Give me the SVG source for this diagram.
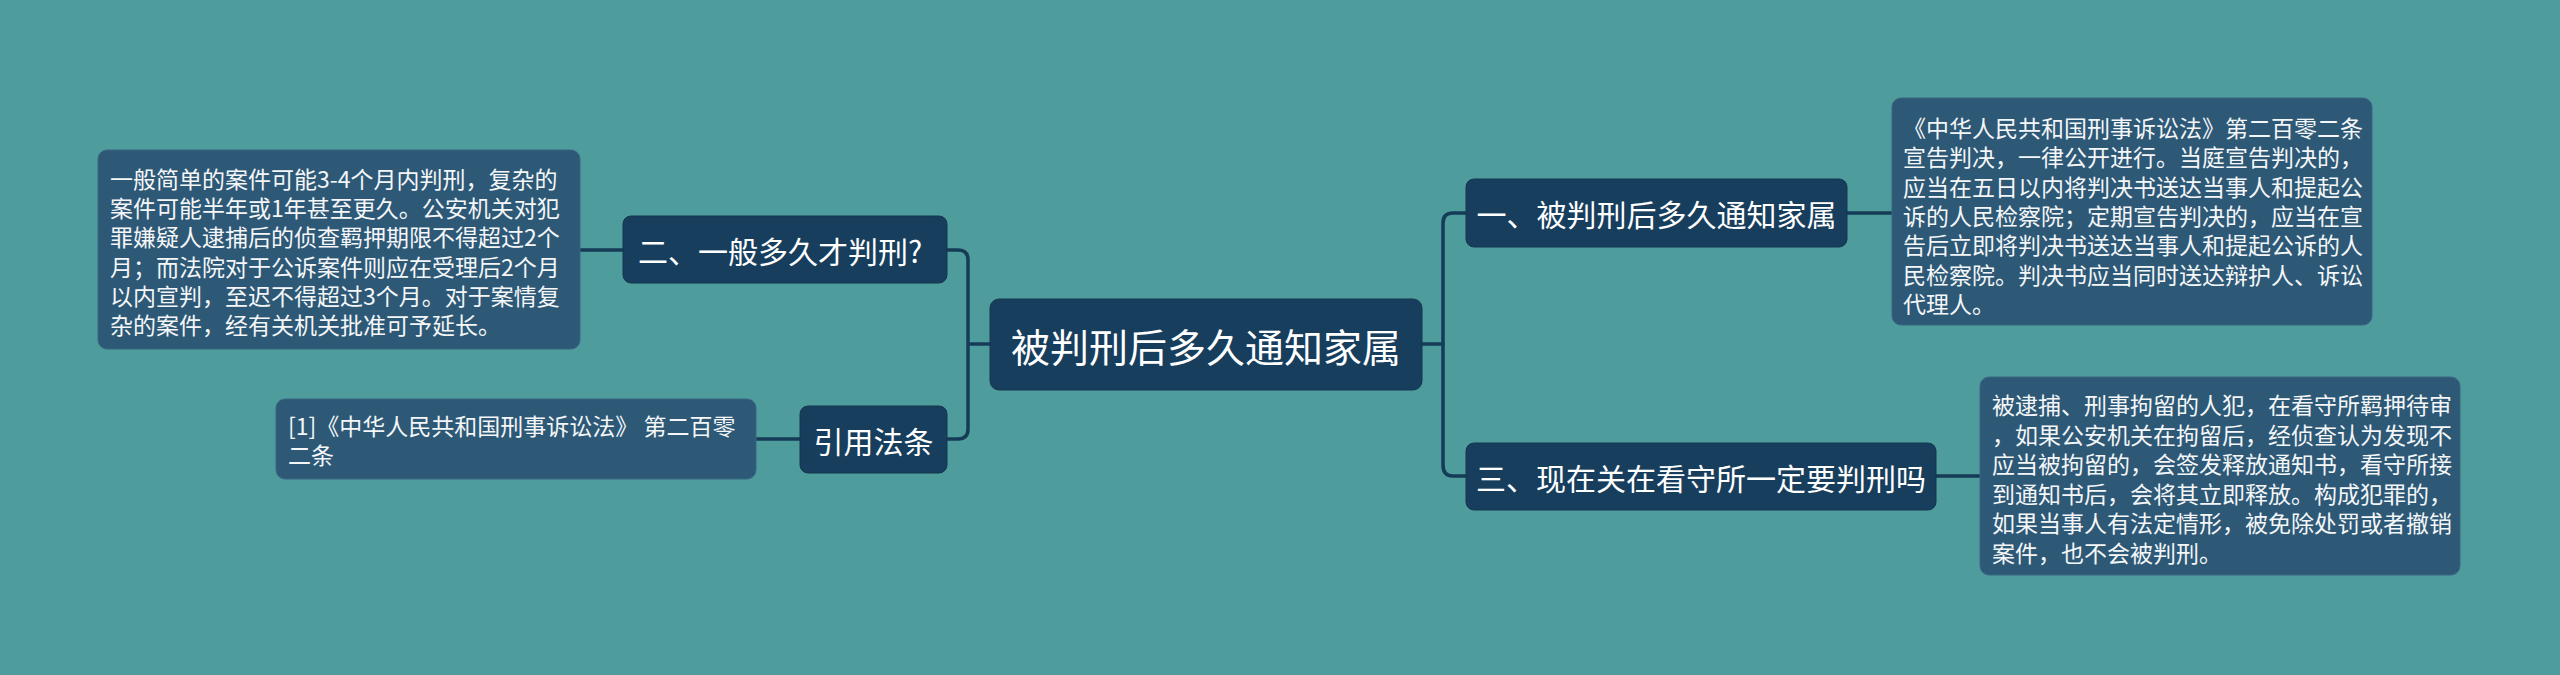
<svg xmlns="http://www.w3.org/2000/svg" width="2560" height="675" viewBox="0 0 2560 675">
<style>
.bg{fill:#4e9d9c}
.node{fill:#173e5d;stroke:#15374f;stroke-width:1}
.detail{fill:#2d5977;stroke:#3a6683;stroke-width:1}
.conn{fill:none;stroke:#163b57;stroke-width:3.5;stroke-linecap:round}
text{font-family:"Noto Sans CJK SC","Noto Sans",sans-serif;fill:#ffffff;dominant-baseline:central}
.root{font-size:39px}
.sub{font-size:30px}
.dt{font-size:23px;fill:#f4f6f8}
</style>
<rect class="bg" x="0" y="0" width="2560" height="675"/>
<g id="connectors">
<path class="conn" d="M990,344 H968"/>
<path class="conn" d="M947,250 H958 Q968,250 968,260 V429 Q968,439 958,439 H947"/>
<path class="conn" d="M1422,344 H1443"/>
<path class="conn" d="M1466,213 H1453 Q1443,213 1443,223 V465 Q1443,476 1453,476 H1466"/>
<path class="conn" d="M623,250 H580"/>
<path class="conn" d="M800,439 H756"/>
<path class="conn" d="M1847,213 H1892"/>
<path class="conn" d="M1936,476 H1980"/>
</g>
<g id="root">
<rect class="node" x="990" y="299" width="432" height="91" rx="9"/>
<text class="root" x="1206" y="344.5" text-anchor="middle">被判刑后多久通知家属</text>
</g>
<g id="node-2">
<rect class="node" x="623" y="216" width="324" height="67" rx="8"/>
<text class="sub" x="638" y="249.5">二、一般多久才判刑?</text>
</g>
<g id="node-ref">
<rect class="node" x="800" y="406" width="147" height="67" rx="8"/>
<text class="sub" x="873.5" y="439.5" text-anchor="middle">引用法条</text>
</g>
<g id="node-1">
<rect class="node" x="1466" y="179" width="381" height="68" rx="8"/>
<text class="sub" x="1656.5" y="213" text-anchor="middle">一、被判刑后多久通知家属</text>
</g>
<g id="node-3">
<rect class="node" x="1466" y="443" width="470" height="67" rx="8"/>
<text class="sub" x="1701" y="476.5" text-anchor="middle">三、现在关在看守所一定要判刑吗</text>
</g>
<g id="detail-2">
<rect class="detail" x="98" y="150" width="482" height="199" rx="9"/>
<text class="dt" x="110" y="178">一般简单的案件可能3-4个月内判刑，复杂的</text>
<text class="dt" x="110" y="207.2">案件可能半年或1年甚至更久。公安机关对犯</text>
<text class="dt" x="110" y="236.4">罪嫌疑人逮捕后的侦查羁押期限不得超过2个</text>
<text class="dt" x="110" y="265.6">月；而法院对于公诉案件则应在受理后2个月</text>
<text class="dt" x="110" y="294.8">以内宣判，至迟不得超过3个月。对于案情复</text>
<text class="dt" x="110" y="324">杂的案件，经有关机关批准可予延长。</text>
</g>
<g id="detail-ref">
<rect class="detail" x="276" y="399" width="480" height="80" rx="9"/>
<text class="dt" x="288" y="424.5">[1]《中华人民共和国刑事诉讼法》 第二百零</text>
<text class="dt" x="288" y="453.5">二条</text>
</g>
<g id="detail-1">
<rect class="detail" x="1892" y="98" width="480" height="227" rx="9"/>
<text class="dt" x="1903" y="127">《中华人民共和国刑事诉讼法》第二百零二条</text>
<text class="dt" x="1903" y="156.3">宣告判决，一律公开进行。当庭宣告判决的，</text>
<text class="dt" x="1903" y="185.6">应当在五日以内将判决书送达当事人和提起公</text>
<text class="dt" x="1903" y="214.9">诉的人民检察院；定期宣告判决的，应当在宣</text>
<text class="dt" x="1903" y="244.2">告后立即将判决书送达当事人和提起公诉的人</text>
<text class="dt" x="1903" y="273.5">民检察院。判决书应当同时送达辩护人、诉讼</text>
<text class="dt" x="1903" y="302.8">代理人。</text>
</g>
<g id="detail-3">
<rect class="detail" x="1980" y="377" width="480" height="198" rx="9"/>
<text class="dt" x="1992" y="404">被逮捕、刑事拘留的人犯，在看守所羁押待审</text>
<text class="dt" x="1992" y="433.6">，如果公安机关在拘留后，经侦查认为发现不</text>
<text class="dt" x="1992" y="463.2">应当被拘留的，会签发释放通知书，看守所接</text>
<text class="dt" x="1992" y="492.8">到通知书后，会将其立即释放。构成犯罪的，</text>
<text class="dt" x="1992" y="522.4">如果当事人有法定情形，被免除处罚或者撤销</text>
<text class="dt" x="1992" y="552">案件，也不会被判刑。</text>
</g>
</svg>
